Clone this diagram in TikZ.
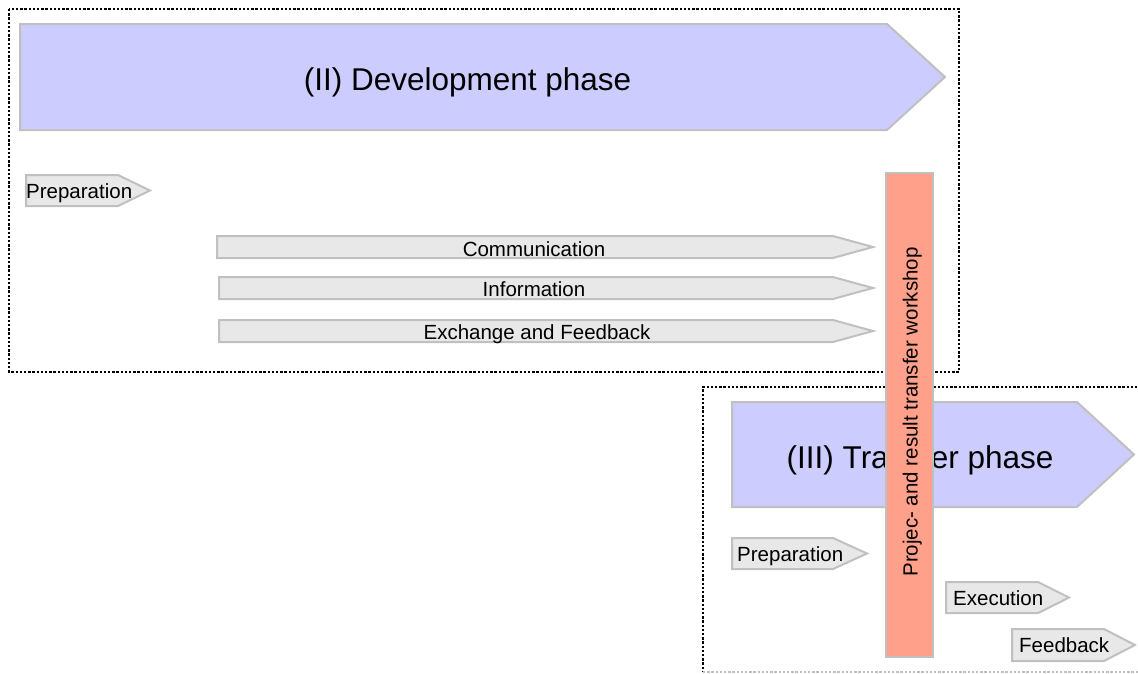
\documentclass[tikz,border=0pt]{standalone}
\usepackage{fontspec}
\setmainfont{Liberation Sans}
\definecolor{phasefill}{HTML}{CCCCFF}
\definecolor{stepfill}{HTML}{E8E8E8}
\definecolor{edgegray}{HTML}{C0C0C0}
\definecolor{barfill}{HTML}{FFA08A}
\newcommand\pentarrow[6]{%
  \draw[#1] (#2,#3) -- (#5,#3) -- (#6,{(#3+#4)/2}) -- (#5,#4) -- (#2,#4) -- cycle;}
\tikzset{
  dotbox/.style={draw=black, line width=2.5pt, dash pattern=on 2.4pt off 1.8pt},
  phasearrow/.style={fill=phasefill, draw=edgegray, line width=2pt, line join=miter},
  steparrow/.style={fill=stepfill, draw=edgegray, line width=2pt, line join=miter},
  barbox/.style={fill=barfill, draw=edgegray, line width=2pt},
  titletext/.style={inner sep=0pt, anchor=base, font=\fontsize{31.5}{36}\selectfont},
  steptext/.style={inner sep=0pt, font=\fontsize{20.5}{24}\selectfont},
}
\begin{document}
\begin{tikzpicture}[x=1pt,y=-1pt]
\useasboundingbox (0,0) rectangle (1138,673);
% frames
\draw[dotbox] (9,9) rectangle (959,372);
\draw[dotbox] (1150,387) -- (703,387) -- (703,672);
\draw[dotbox, draw=black!25] (703,672) -- (1150,672);
% development phase
\pentarrow{phasearrow}{20}{24}{130}{887}{945}
\node[titletext] (devt) at (467.5,90) {(II) Development phase};
\pentarrow{steparrow}{26}{175}{206}{118}{150}
\node[steptext, anchor=base west] (prep1) at (26,198) {Preparation};
\pentarrow{steparrow}{217}{236}{258}{833}{873}
\node[steptext, anchor=base] (comm) at (534,256) {Communication};
\pentarrow{steparrow}{219}{277}{299}{833}{873}
\node[steptext, anchor=base] (info) at (534,296) {Information};
\pentarrow{steparrow}{219}{320}{342}{833}{873}
\node[steptext, anchor=base] (exch) at (537,339) {Exchange and Feedback};
% transfer phase
\pentarrow{phasearrow}{732}{402}{507}{1077}{1134}
\node[titletext] (trans) at (920,468) {(III) Transfer phase};
\pentarrow{steparrow}{732}{538}{569}{833}{867}
\node[steptext, anchor=base west] (prep2) at (737,561) {Preparation};
\pentarrow{steparrow}{946}{582}{613}{1038}{1069}
\node[steptext, anchor=base west] (exec) at (953,605.5) {Execution};
\pentarrow{steparrow}{1012}{629}{661}{1104}{1135}
\node[steptext, anchor=base west] (feed) at (1019,652.5) {Feedback};
% workshop bar
\draw[barbox] (886,173) rectangle (933,657);
\node[steptext, anchor=base, rotate=90] (work) at (917.5,412) {Projec- and result transfer workshop};
\end{tikzpicture}
\end{document}
